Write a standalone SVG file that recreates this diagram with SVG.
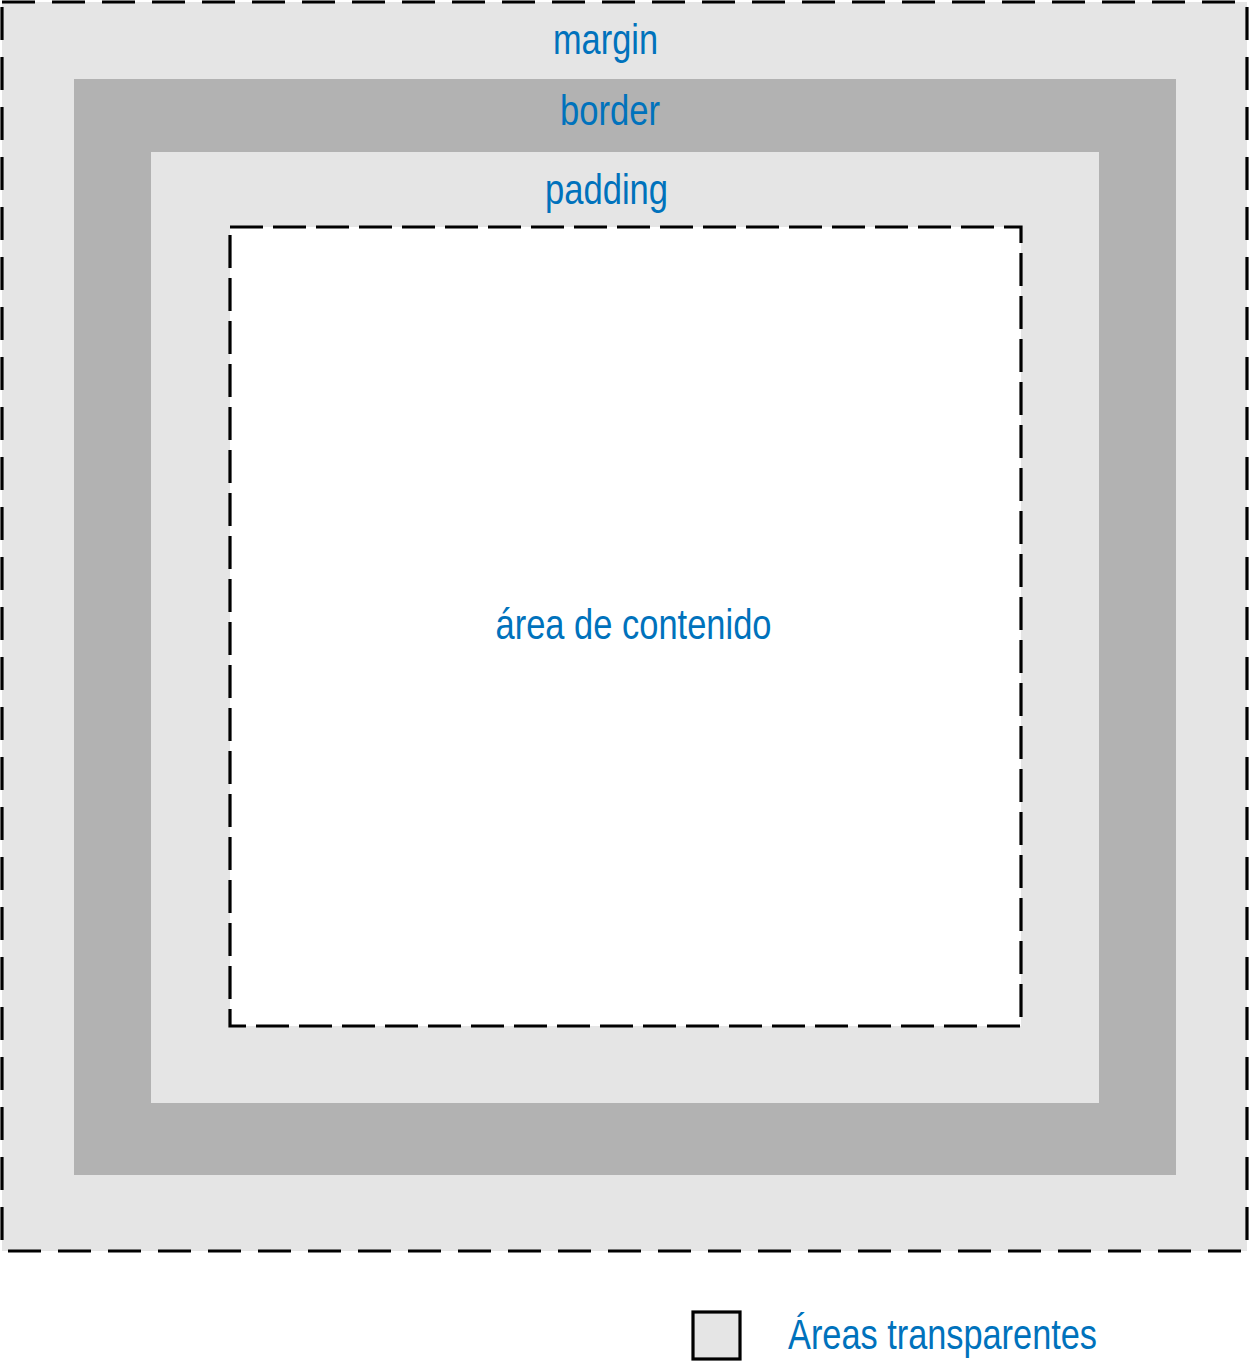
<svg xmlns="http://www.w3.org/2000/svg" width="1250" height="1362" viewBox="0 0 1250 1362">
<style>
.lbl{font-family:"Liberation Sans",Arial,sans-serif;font-size:42px;fill:#0072bc;text-anchor:middle}
.light{fill:#e5e5e5}
.dark{fill:#b2b2b2}
.dash{fill:none;stroke:#000;stroke-width:3.2}
</style>
<rect width="1250" height="1362" fill="#fff"/>
<g id="margin">
<rect class="light" x="2" y="2" width="1245" height="1249"/>
<rect class="dash" x="2" y="2" width="1245" height="1249" stroke-dasharray="33 17"/>
<text class="lbl" x="605.5" y="54" textLength="105" lengthAdjust="spacingAndGlyphs">margin</text>
</g>
<g id="border">
<rect class="dark" x="74" y="79" width="1102" height="1096"/>
<text class="lbl" x="610" y="125" textLength="100" lengthAdjust="spacingAndGlyphs">border</text>
</g>
<g id="padding">
<rect class="light" x="151" y="152" width="948" height="951"/>
<text class="lbl" x="606.5" y="204" textLength="123" lengthAdjust="spacingAndGlyphs">padding</text>
</g>
<g id="content">
<rect fill="#fff" x="230" y="227" width="791" height="799"/>
<rect class="dash" x="230" y="227" width="791" height="799" stroke-dasharray="33 10"/>
<text class="lbl" x="633.5" y="639" textLength="276" lengthAdjust="spacingAndGlyphs">área de contenido</text>
</g>
<g id="legend">
<rect class="light" x="693" y="1312" width="47" height="47" stroke="#000" stroke-width="3.2"/>
<text class="lbl" x="942.5" y="1349" textLength="309" lengthAdjust="spacingAndGlyphs">Áreas transparentes</text>
</g>
<g id="connectors"></g>
</svg>
